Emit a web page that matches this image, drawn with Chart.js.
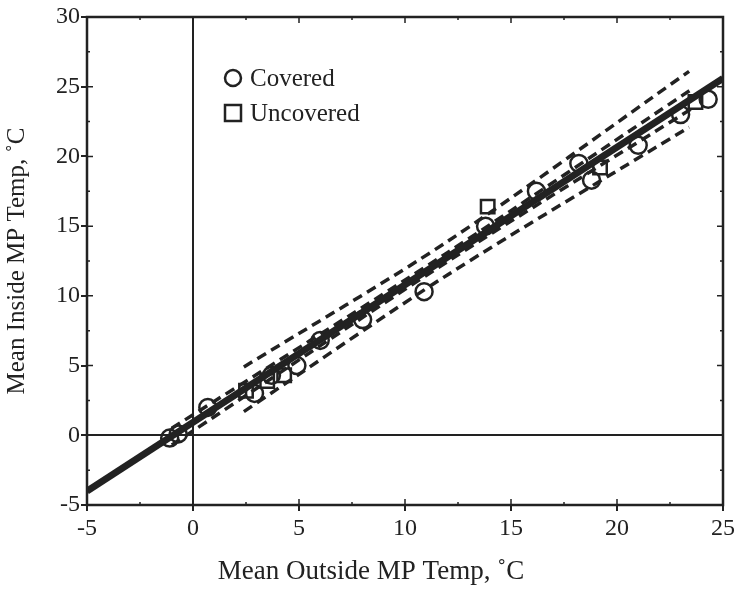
<!DOCTYPE html>
<html>
<head>
<meta charset="utf-8">
<script src="https://cdn.jsdelivr.net/npm/chart.js@4.4.0/dist/chart.umd.min.js"></script>
<style>
  html, body { margin: 0; padding: 0; background: #fff; }
  #wrap { width: 735px; height: 591px; }
</style>
</head>
<body>
<div id="wrap"><canvas id="myChart" width="735" height="591"></canvas></div>
<script>
// Covered / uncovered observations (outside temp, inside temp)
const coveredX = [-1.1, -0.7, 0.7, 2.9, 3.7, 4.9, 6.0, 8.0, 10.9, 13.8, 16.2, 18.2, 18.8, 21.0, 23.0, 24.3];
const coveredY = [-0.2, 0.1, 2.0, 3.0, 4.3, 5.0, 6.8, 8.3, 10.3, 15.0, 17.5, 19.5, 18.3, 20.8, 23.0, 24.1];
const uncoveredX = [2.5, 3.5, 4.3, 13.9, 19.2, 23.7];
const uncoveredY = [3.2, 3.9, 4.3, 16.4, 19.2, 23.9];

// Fitted line and the two bands around it
const fitX = [-5, 25];
const fitY = [-4.0, 25.6];
const innerX = [-1, 12, 23.5];
const innerUpperY = [0.5, 13.1, 24.8];
const innerLowerY = [-0.7, 12.45, 23.4];
const outerX = [2.4, 12, 23.4];
const outerUpperY = [4.9, 13.9, 26.1];
const outerLowerY = [1.7, 11.5, 22.1];

const legendLabels = ["Covered", "Uncovered"];
const xTitle = "Mean Outside MP Temp, ˚C";
const yTitle = "Mean Inside MP Temp, ˚C";

const ink = "#222";
const serif = "'Liberation Serif', 'DejaVu Serif', serif";

function pts(xs, ys) {
    return xs.map((x, i) => ({ x: x, y: ys[i] }));
}

function bandLine(data) {
    return {
        type: "line",
        data: data,
        borderColor: ink,
        borderWidth: 3.5,
        borderDash: [10, 6],
        pointRadius: 0,
        fill: false,
        tension: 0.3
    };
}

// frame, minor ticks, x title and the in-plot legend
const framePlugin = {
    id: "frame",
    afterDraw(chart) {
        const ctx = chart.ctx;
        const a = chart.chartArea;
        const xs = chart.scales.x, ys = chart.scales.y;
        ctx.save();
        ctx.strokeStyle = ink;
        ctx.lineWidth = 2.5;
        ctx.strokeRect(a.left, a.top, a.right - a.left, a.bottom - a.top);

        ctx.lineWidth = 1.5;
        for (let v = -5; v <= 25; v += 2.5) {
            const px = xs.getPixelForValue(v);
            const len = (v % 5 === 0) ? 6 : 3;
            ctx.beginPath();
            ctx.moveTo(px, a.top); ctx.lineTo(px, a.top + len);
            ctx.moveTo(px, a.bottom); ctx.lineTo(px, a.bottom - len);
            ctx.stroke();
        }
        for (let v = -5; v <= 30; v += 2.5) {
            const py = ys.getPixelForValue(v);
            const len = (v % 5 === 0) ? 6 : 3;
            ctx.beginPath();
            ctx.moveTo(a.left, py); ctx.lineTo(a.left + len, py);
            ctx.moveTo(a.right, py); ctx.lineTo(a.right - len, py);
            ctx.stroke();
        }

        ctx.fillStyle = ink;
        ctx.textBaseline = "middle";

        // x title sits a bit left of the plot centre
        ctx.font = "27px " + serif;
        ctx.textAlign = "center";
        ctx.fillText(xTitle, (a.left + a.right) / 2 - 34, a.bottom + 67);

        // legend
        const lx = a.left + 146, ly = a.top + 61;
        ctx.font = "25px " + serif;
        ctx.textAlign = "left";
        ctx.lineWidth = 2.5;
        ctx.beginPath();
        ctx.arc(lx, ly, 8, 0, Math.PI * 2);
        ctx.stroke();
        ctx.fillText(legendLabels[0], lx + 17, ly + 1);
        ctx.strokeRect(lx - 8, ly + 27, 16, 16);
        ctx.fillText(legendLabels[1], lx + 17, ly + 36);
        ctx.restore();
    }
};

const ctx = document.getElementById("myChart").getContext("2d");
const myChart = new Chart(ctx, {
    type: "scatter",
    data: {
        datasets: [
            {
                type: "line",
                data: pts(fitX, fitY),
                borderColor: ink,
                borderWidth: 7,
                pointRadius: 0,
                fill: false
            },
            bandLine(pts(innerX, innerUpperY)),
            bandLine(pts(innerX, innerLowerY)),
            bandLine(pts(outerX, outerUpperY)),
            bandLine(pts(outerX, outerLowerY)),
            {
                label: legendLabels[0],
                data: pts(coveredX, coveredY),
                pointStyle: "circle",
                pointRadius: 8.5,
                borderColor: ink,
                borderWidth: 2.5,
                backgroundColor: "rgba(0,0,0,0)"
            },
            {
                label: legendLabels[1],
                data: pts(uncoveredX, uncoveredY),
                pointStyle: "rect",
                pointRadius: 9.5,
                borderColor: ink,
                borderWidth: 2.5,
                backgroundColor: "rgba(0,0,0,0)"
            }
        ]
    },
    options: {
        responsive: false,
        animation: false,
        layout: { padding: { left: 0, right: 9, top: 17, bottom: 0 } },
        plugins: {
            legend: { display: false },
            tooltip: { enabled: false }
        },
        scales: {
            x: {
                type: "linear",
                min: -5,
                max: 25,
                afterFit: s => {
                    s.height = 86;
                    s.paddingLeft = 0;
                    s.paddingRight = 0;
                },
                ticks: {
                    stepSize: 5,
                    color: ink,
                    padding: 3,
                    font: { family: serif, size: 24 }
                },
                grid: {
                    color: c => (c.tick && c.tick.value === 0) ? ink : "rgba(0,0,0,0)",
                    lineWidth: 2,
                    tickColor: ink,
                    tickLength: 6,
                    tickWidth: 2
                },
                border: { display: false },
                title: { display: false }
            },
            y: {
                type: "linear",
                min: -5,
                max: 30,
                afterFit: s => { s.width = 87; },
                ticks: {
                    stepSize: 5,
                    color: ink,
                    padding: 1,
                    font: { family: serif, size: 24 }
                },
                grid: {
                    color: c => (c.tick && c.tick.value === 0) ? ink : "rgba(0,0,0,0)",
                    lineWidth: 2,
                    tickColor: ink,
                    tickLength: 6,
                    tickWidth: 2
                },
                border: { display: false },
                title: {
                    display: true,
                    text: yTitle,
                    color: ink,
                    padding: { top: 2, bottom: 0 },
                    font: { family: serif, size: 25 }
                }
            }
        }
    },
    plugins: [framePlugin]
});
</script>
</body>
</html>
